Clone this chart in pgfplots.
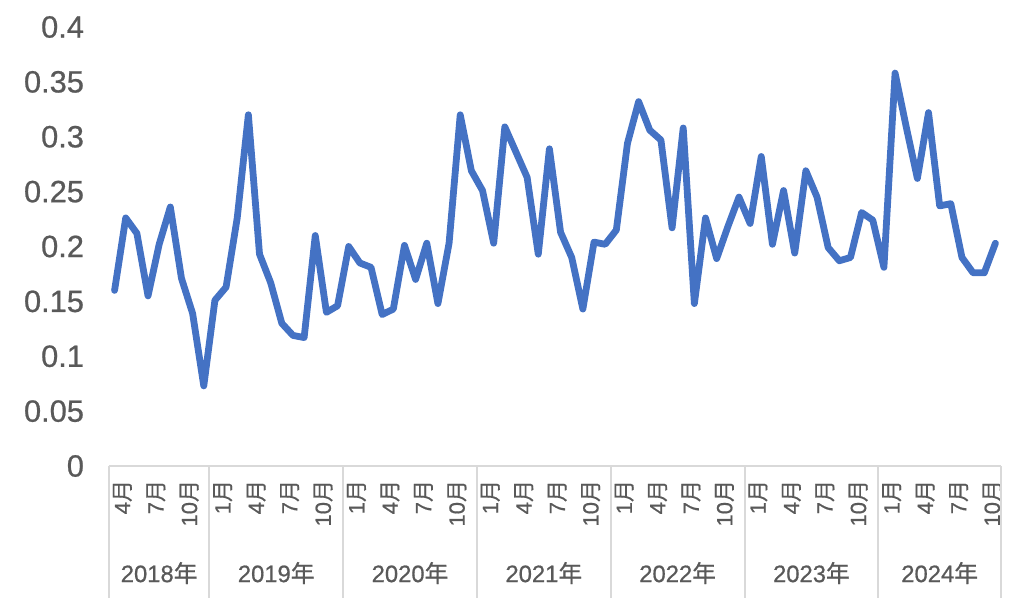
\documentclass[border=0pt]{standalone}
\usepackage{fontspec}
\setmainfont{Liberation Sans}[FakeBold=0.7]
\newfontfamily\cjk{Noto Sans CJK SC}[FakeBold=0.5]
\usepackage{pgfplots}
\pgfplotsset{compat=1.18}
\definecolor{linec}{HTML}{4472C4}
\definecolor{txt}{HTML}{595959}
\definecolor{sep}{HTML}{D9D9D9}
\newcommand\M[1]{#1{\cjk 月}}
\newcommand\Y[1]{#1{\cjk 年}}
\pgfplotstableread{
idx val
0 0.160
1 0.226
2 0.212
3 0.155
4 0.202
5 0.236
6 0.171
7 0.139
8 0.073
9 0.151
10 0.163
11 0.226
12 0.320
13 0.193
14 0.167
15 0.130
16 0.119
17 0.117
18 0.210
19 0.140
20 0.146
21 0.200
22 0.185
23 0.181
24 0.138
25 0.143
26 0.201
27 0.170
28 0.203
29 0.148
30 0.203
31 0.320
32 0.269
33 0.251
34 0.203
35 0.309
36 0.286
37 0.263
38 0.193
39 0.289
40 0.213
41 0.190
42 0.143
43 0.204
44 0.202
45 0.215
46 0.294
47 0.332
48 0.306
49 0.297
50 0.217
51 0.308
52 0.148
53 0.226
54 0.189
55 0.218
56 0.245
57 0.221
58 0.282
59 0.202
60 0.251
61 0.194
62 0.269
63 0.245
64 0.199
65 0.187
66 0.190
67 0.231
68 0.224
69 0.181
70 0.358
71 0.309
72 0.262
73 0.322
74 0.237
75 0.239
76 0.190
77 0.176
78 0.176
79 0.203
}\datatable
\begin{document}
\begin{tikzpicture}
\path[use as bounding box] (-54.5bp,-73bp) rectangle (455.5bp,233bp);
\begin{axis}[
  at={(0,0)}, anchor=south west,
  scale only axis, width=446bp, height=219.5bp,
  xmin=-0.5, xmax=79.5, ymin=0, ymax=0.4,
  axis lines*=left,
  y axis line style={draw=none},
  x axis line style={draw=sep, line width=1bp, -},
  ytick={0,0.05,0.1,0.15,0.2,0.25,0.3,0.35,0.4},
  yticklabels={0,0.05,0.1,0.15,0.2,0.25,0.3,0.35,0.4},
  yticklabel style={font=\fontsize{15.4bp}{18bp}\selectfont, text=txt, xshift=-9bp},
  xtick={0.7,3.7,6.7,9.7,12.7,15.7,18.7,21.7,24.7,27.7,30.7,33.7,36.7,39.7,42.7,45.7,48.7,51.7,54.7,57.7,60.7,63.7,66.7,69.7,72.7,75.7,78.7},
  xticklabels={\M{4},\M{7},\M{10},\M{1},\M{4},\M{7},\M{10},\M{1},\M{4},\M{7},\M{10},\M{1},\M{4},\M{7},\M{10},\M{1},\M{4},\M{7},\M{10},\M{1},\M{4},\M{7},\M{10},\M{1},\M{4},\M{7},\M{10}},
  xticklabel style={font=\fontsize{11bp}{13bp}\selectfont, text=txt, rotate=90, anchor=east},
  xticklabel shift=3.5bp,
  tick style={draw=none}, major tick length=0pt,
  clip=false,
]
\addplot[linec, line width=3.4bp, line join=round, line cap=round, mark=none] table[x=idx, y=val] {\datatable};
\pgfplotsinvokeforeach{-0.5,8.5,20.5,32.5,44.5,56.5,68.5,79.5}{
  \draw[sep, line width=1bp] (axis cs:#1,0) -- ++(0pt,-66bp);
}
\node[text=txt, font=\fontsize{11.9bp}{14bp}\selectfont, yshift=-53.5bp] at (axis cs:4,0) {\Y{2018}};
\node[text=txt, font=\fontsize{11.9bp}{14bp}\selectfont, yshift=-53.5bp] at (axis cs:14.5,0) {\Y{2019}};
\node[text=txt, font=\fontsize{11.9bp}{14bp}\selectfont, yshift=-53.5bp] at (axis cs:26.5,0) {\Y{2020}};
\node[text=txt, font=\fontsize{11.9bp}{14bp}\selectfont, yshift=-53.5bp] at (axis cs:38.5,0) {\Y{2021}};
\node[text=txt, font=\fontsize{11.9bp}{14bp}\selectfont, yshift=-53.5bp] at (axis cs:50.5,0) {\Y{2022}};
\node[text=txt, font=\fontsize{11.9bp}{14bp}\selectfont, yshift=-53.5bp] at (axis cs:62.5,0) {\Y{2023}};
\node[text=txt, font=\fontsize{11.9bp}{14bp}\selectfont, yshift=-53.5bp] at (axis cs:74,0) {\Y{2024}};
\end{axis}
\end{tikzpicture}
\end{document}
